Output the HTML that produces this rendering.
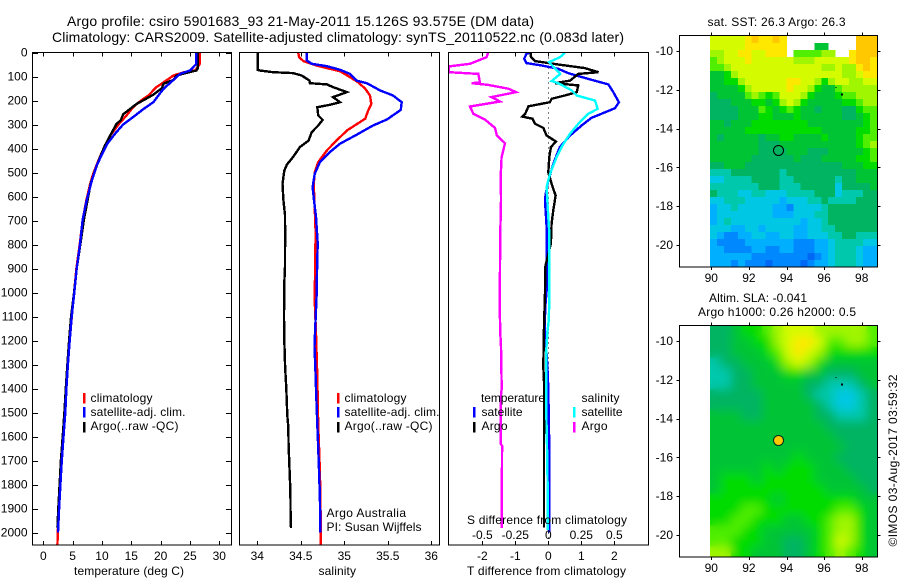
<!DOCTYPE html>
<html lang="en">
<head>
<meta charset="utf-8">
<title>Argo profile csiro 5901683_93</title>
<style>
html,body{margin:0;padding:0;background:#fff;width:900px;height:580px;overflow:hidden}
svg{display:block}
text{font-family:"Liberation Sans",sans-serif;font-size:12px;fill:#000}
.title{font-size:14px}
.line{fill:none;stroke-linejoin:miter;stroke-width:2.4;shape-rendering:crispEdges}
.frame{fill:none;stroke:#000;stroke-width:1;shape-rendering:crispEdges}
.tick{stroke:#000;stroke-width:1;shape-rendering:crispEdges}
.key{shape-rendering:crispEdges}
</style>
</head>
<body>
<svg id="chart" xmlns="http://www.w3.org/2000/svg" width="900" height="580" viewBox="0 0 900 580">
  <defs>
    <clipPath id="clip-temp"><rect x="33" y="53" width="198" height="492"/></clipPath>
    <clipPath id="clip-sal"><rect x="240" y="53" width="199" height="492"/></clipPath>
    <clipPath id="clip-diff"><rect x="449" y="53" width="199" height="492"/></clipPath>
    <clipPath id="clip-sla"><rect x="710" y="326" width="167" height="231"/></clipPath>
    <filter id="sla-smooth" x="-10%" y="-10%" width="120%" height="120%"><feGaussianBlur stdDeviation="5"/></filter>
  </defs>

  <g id="map-sst"></g>
  <g id="map-sla" clip-path="url(#clip-sla)"></g>

  <g id="series-temp" clip-path="url(#clip-temp)"></g>
  <g id="series-sal" clip-path="url(#clip-sal)"></g>
  <g id="series-diff" clip-path="url(#clip-diff)"></g>
  <g id="map-marks"></g>

  <rect class="frame" x="32.5" y="52.5" width="199" height="492.5"/>
  <rect class="frame" x="239.5" y="52.5" width="200" height="492.5"/>
  <rect class="frame" x="448.5" y="52.5" width="200" height="492.5"/>
  <rect class="frame" x="679.5" y="35.5" width="198" height="231.5"/>
  <rect class="frame" x="679.5" y="325.5" width="198" height="231.5"/>
  <g id="axes"></g>

  <text class="title" x="67" y="26" textLength="467" lengthAdjust="spacing">Argo profile: csiro 5901683_93 21-May-2011 15.126S 93.575E (DM data)</text>
  <text class="title" x="52" y="42" textLength="572" lengthAdjust="spacing">Climatology: CARS2009. Satellite-adjusted climatology: synTS_20110522.nc (0.083d later)</text>

  <text x="74" y="575" textLength="110" lengthAdjust="spacing">temperature (deg C)</text>
  <text x="318.5" y="575" textLength="37.5" lengthAdjust="spacing">salinity</text>
  <text x="467" y="575" textLength="159" lengthAdjust="spacing">T difference from climatology</text>
  <text x="467" y="524" textLength="160" lengthAdjust="spacing">S difference from climatology</text>

  <g>
    <rect class="key" x="83" y="393" width="2.4" height="10.5" fill="#ff0000"/>
    <rect class="key" x="83" y="407" width="2.4" height="10.5" fill="#0000ff"/>
    <rect class="key" x="83" y="422" width="2.4" height="10.5" fill="#000000"/>
    <text x="90.5" y="402" textLength="62" lengthAdjust="spacing">climatology</text>
    <text x="90.5" y="416" textLength="95" lengthAdjust="spacing">satellite-adj. clim.</text>
    <text x="90.5" y="430" textLength="88" lengthAdjust="spacing">Argo(..raw -QC)</text>
  </g>
  <g>
    <rect class="key" x="337" y="393" width="2.4" height="10.5" fill="#ff0000"/>
    <rect class="key" x="337" y="407" width="2.4" height="10.5" fill="#0000ff"/>
    <rect class="key" x="337" y="422" width="2.4" height="10.5" fill="#000000"/>
    <text x="344.5" y="402" textLength="62" lengthAdjust="spacing">climatology</text>
    <text x="344.5" y="416" textLength="95" lengthAdjust="spacing">satellite-adj. clim.</text>
    <text x="344.5" y="430" textLength="88" lengthAdjust="spacing">Argo(..raw -QC)</text>
    <text x="326.5" y="517" textLength="79.5" lengthAdjust="spacing">Argo Australia</text>
    <text x="326.5" y="531" textLength="95" lengthAdjust="spacing">PI: Susan Wijffels</text>
  </g>
  <g>
    <text x="481" y="402" textLength="64" lengthAdjust="spacing">temperature</text>
    <text x="581.5" y="402" textLength="38" lengthAdjust="spacing">salinity</text>
    <rect class="key" x="473" y="407" width="2.4" height="10.5" fill="#0000ff"/>
    <rect class="key" x="473" y="422" width="2.4" height="10.5" fill="#000000"/>
    <rect class="key" x="573" y="407" width="2.4" height="10.5" fill="#00ffff"/>
    <rect class="key" x="573" y="422" width="2.4" height="10.5" fill="#ff00ff"/>
    <text x="481.5" y="416" textLength="41" lengthAdjust="spacing">satellite</text>
    <text x="481.5" y="430" textLength="26" lengthAdjust="spacing">Argo</text>
    <text x="581.5" y="416" textLength="41" lengthAdjust="spacing">satellite</text>
    <text x="581.5" y="430" textLength="26" lengthAdjust="spacing">Argo</text>
  </g>

  <text x="707.5" y="26" textLength="138" lengthAdjust="spacing">sat. SST: 26.3 Argo: 26.3</text>
  <text x="709" y="302" textLength="98" lengthAdjust="spacing">Altim. SLA: -0.041</text>
  <text x="698" y="316" textLength="158" lengthAdjust="spacing">Argo h1000: 0.26 h2000: 0.5</text>
  <text transform="translate(897 546.5) rotate(-90)" textLength="172" lengthAdjust="spacing">©IMOS 03-Aug-2017 03:59:32</text>
</svg>

<script>
// ---- axis tick data ----
const depthTicks = [0,100,200,300,400,500,600,700,800,900,1000,1100,1200,1300,1400,1500,1600,1700,1800,1900,2000];
const tempTicks = [0,5,10,15,20,25,30];
const salTicks = [34,34.5,35,35.5,36];
const tDiffTicks = [-2,-1,0,1,2];
const sDiffTicks = [-0.5,-0.25,0,0.25,0.5];
const lonTicks = [90,92,94,96,98];
const latTicks = [-10,-12,-14,-16,-18,-20];

// ---- temperature profiles ----
const tempClimDepth = [0,47,75,83,96,124,144,179,203,228,262,294,339,388,450,505,547,615,698,800,900,1000,1100,1200,1300,1400,1500,1600,1700,1800,1900,2000,2054];
const tempClimValue = [26.7,26.7,25.9,23.9,22.2,20.5,19.3,17.9,16.5,15.3,14.2,13,11.6,10.5,9.4,8.5,8,7.35,6.72,6.2,5.65,5.25,4.85,4.5,4.2,3.92,3.7,3.4,3.12,2.88,2.65,2.47,2.4];
const tempSatDepth = [0,47,75,89,114,151,207,237,269,300,339,380,429,471,540,615,698,800,900,1000,1100,1200,1300,1400,1500,1600,1700,1800,1900,2000];
const tempSatValue = [26.1,26.1,25,23.3,22.2,20.5,18.75,17,15.3,13.6,12.2,10.9,9.9,9.1,8.2,7.4,6.7,6.26,5.7,5.29,4.84,4.5,4.2,3.93,3.75,3.45,3.15,2.92,2.7,2.5];
const tempArgoDepth = [0,68,75,85,96,114,130,149,176,200,214,235,258,283,297,346,388,436,492,547,615,698,800,900,1000,1100,1200,1300,1400,1500,1600,1700,1800,1900,1980];
const tempArgoValue = [26.3,26.3,26.1,24.4,22.7,22.2,20.5,20.2,18.75,17,15.9,14.8,13.6,13.2,12.5,11.4,10.5,9.66,8.8,8.07,7.55,6.9,6.3,5.7,5.25,4.74,4.4,4.1,3.83,3.6,3.3,3,2.78,2.55,2.4];

// ---- salinity profiles ----
const salClimDepth = [0,19,36,54,68,78,99,124,151,179,214,242,276,304,325,367,408,457,499,547,617,693,753,1030,1170,1350,1550,1650,1750,1850,2000,2054];
const salClimValue = [34.47,34.48,34.53,34.68,34.835,34.95,35.05,35.16,35.24,35.295,35.31,35.275,35.24,35.12,35.03,34.91,34.8,34.7,34.66,34.65,34.655,34.665,34.67,34.66,34.675,34.69,34.7,34.71,34.72,34.725,34.73,34.73];
const salSatDepth = [0,33,47,57,72,89,117,128,158,179,207,239,279,304,343,380,415,457,506,561,615,684,795,892,1003,1170,1225,1308,1400,1550,1645,1750,1854,2000];
const salSatValue = [34.567,34.567,34.625,34.8,34.95,35.065,35.14,35.26,35.41,35.56,35.66,35.65,35.49,35.33,35.14,34.95,34.835,34.72,34.66,34.636,34.652,34.675,34.694,34.687,34.683,34.663,34.657,34.667,34.675,34.69,34.7,34.71,34.72,34.725];
const salArgoDepth = [0,72,75,82,86,96,117,128,133,144,165,186,207,218,228,262,281,304,332,367,394,436,467,492,547,615,677,753,892,962,1100,1197,1308,1400,1512,1560,1637,1733,1830,1933,1982];
const salArgoValue = [34.004,34.004,34.03,34.18,34.41,34.51,34.6,34.605,34.8,34.87,35.03,34.87,34.95,34.835,34.69,34.7,34.75,34.7,34.625,34.59,34.49,34.41,34.34,34.31,34.29,34.3,34.318,34.32,34.318,34.31,34.307,34.31,34.32,34.333,34.345,34.356,34.36,34.37,34.38,34.383,34.387];

// ---- difference from climatology profiles ----
const tDiffSatDepth = [0,6,26,44,54,68,86,110,133,165,207,232,249,272,304,346,394,464,533,589,615,726,892,975,1058,1100,1160,1300,1400,1650,1850,2000];
const tDiffSatValue = [-0.55,-0.66,-0.73,-0.66,-0.2,0.3,0.6,1.21,1.82,1.97,2.14,2.02,1.72,1.31,1.01,0.66,0.35,0.15,0,-0.08,-0.1,-0.05,-0.04,-0.04,-0.09,-0.1,-0.1,-0.03,0,0.03,0.03,0.03];
const tDiffArgoDepth = [0,17,36,50,65,82,89,117,128,137,165,179,193,207,224,255,267,276,297,314,346,371,394,436,499,547,596,615,657,712,795,892,1000,1142,1308,1400,1637,1733,1850,1980];
const tDiffArgoValue = [-0.53,-0.53,-0.4,0.3,1.11,1.52,0.91,0.66,0.2,0.91,0.86,0.5,0.1,0.05,-0.6,-0.7,-0.79,-0.48,-0.4,-0.15,-0.05,0.23,0.08,0.03,0,0.1,0.22,0.2,0.15,0.1,0.08,-0.09,-0.1,-0.13,-0.15,-0.12,-0.13,-0.13,-0.13,-0.13];
const sDiffSatDepth = [0,19,40,89,119,128,158,179,200,235,255,297,339,394,436,506,561,615,753,1031,1114,1170,1240,1400,1500,1640,1800,1990];
const sDiffSatValue = [0.126,0.09,0.005,0.09,0.025,0.076,0.177,0.215,0.354,0.374,0.303,0.227,0.164,0.1,0.063,0.013,-0.013,-0.0076,0.0076,0.0076,0.004,-0.0076,-0.015,-0.015,-0.015,-0.01,-0.005,-0.005];
const sDiffArgoDepth = [0,19,47,58,82,89,124,128,135,151,165,186,204,225,255,279,314,346,378,436,506,615,753,892,1058,1170,1225,1400,1436,1630,1640,1830,1982];
const sDiffArgoValue = [-0.455,-0.467,-0.593,-0.752,-0.752,-0.53,-0.518,-0.58,-0.455,-0.303,-0.245,-0.43,-0.366,-0.593,-0.568,-0.48,-0.404,-0.39,-0.328,-0.354,-0.36,-0.358,-0.364,-0.366,-0.368,-0.364,-0.358,-0.353,-0.36,-0.36,-0.35,-0.352,-0.352];
const refLineDepth = [0,2054];
const refLineValue = [0,0];

// ---- map data (colour-class per cell; null = no data) ----
const sstRows = [
[10,10,10,10,10,11,12,11,11,12,11,null,null,null,null,null,null,null,null,null,null,12,12,12],
[10,10,10,10,10,11,11,11,11,11,11,null,null,null,null,6,6,null,null,null,null,12,12,12],
[9,9,10,10,11,11,10,10,11,11,11,null,8,8,8,8,9,9,null,null,11,12,12,12],
[8,9,10,10,10,11,10,10,10,10,10,10,9,9,9,10,10,10,10,10,11,12,12,11],
[8,8,9,10,10,10,10,10,10,10,10,10,10,10,10,10,9,9,10,9,9,11,12,11],
[6,6,7,9,10,10,10,10,10,10,10,10,10,10,10,10,10,10,10,9,9,10,11,11],
[6,6,7,7,9,10,10,10,10,10,10,11,11,10,10,9,7,9,10,10,9,9,10,10],
[6,6,6,6,7,9,10,10,10,10,10,11,10,10,9,7,6,6,8,9,9,9,9,9],
[5,6,6,6,6,8,9,8,7,8,10,10,10,9,7,6,6,6,7,8,8,9,9,9],
[5,5,5,6,6,6,7,7,6,7,9,10,9,7,6,6,6,6,6,7,7,8,9,9],
[5,5,5,5,6,6,6,8,7,6,7,8,7,6,6,5,6,6,6,5,5,7,8,8],
[5,5,5,5,6,6,6,7,7,6,6,6,7,6,6,6,6,6,6,5,5,6,7,8],
[6,6,5,6,6,6,7,7,7,7,7,7,7,7,6,6,6,6,6,6,6,6,7,8],
[6,6,6,6,6,7,7,7,7,7,7,7,7,7,7,7,6,6,6,6,6,7,7,8],
[6,5,6,6,6,6,6,5,6,6,7,7,6,6,6,6,7,6,6,6,6,7,8,8],
[6,6,6,6,6,6,6,5,5,5,6,6,6,6,6,6,6,6,6,6,6,7,8,9],
[6,6,6,6,6,6,6,5,5,5,5,6,6,6,5,5,5,6,6,6,6,6,7,8],
[6,6,6,6,6,6,5,5,5,5,5,5,6,5,5,5,6,6,6,6,6,7,7,8],
[5,5,6,6,6,5,5,5,5,5,5,5,5,5,5,5,5,5,5,6,6,6,7,7],
[4,4,4,5,5,5,5,5,5,5,4,5,5,5,5,5,5,5,5,5,5,6,6,6],
[3,3,4,4,4,4,5,5,5,5,4,4,5,5,5,5,5,5,4,5,5,6,6,6],
[4,4,4,4,4,4,4,5,5,5,4,4,4,5,5,5,5,5,3,5,5,5,5,6],
[5,4,4,4,3,3,4,4,3,3,3,4,4,4,4,5,5,5,3,4,4,4,5,5],
[3,3,4,4,4,3,3,3,3,3,2,3,3,3,4,4,5,4,4,4,4,5,5,5],
[2,3,3,4,3,3,3,3,3,2,2,1,3,3,3,3,4,5,5,5,5,5,5,5],
[2,3,3,3,3,3,3,3,3,2,2,2,3,3,3,4,4,5,5,5,5,5,5,5],
[2,3,4,3,3,3,3,3,3,3,3,3,3,2,3,3,4,5,5,5,5,5,5,5],
[3,3,3,2,2,3,3,2,3,3,3,3,2,2,3,3,4,4,5,5,5,5,5,5],
[3,2,1,1,2,2,3,3,2,2,3,3,2,2,3,3,3,4,4,5,5,4,4,4],
[2,1,1,1,1,2,2,2,2,2,2,2,1,1,1,2,2,3,4,4,4,4,3,3],
[2,2,1,1,1,1,2,2,1,1,2,2,1,1,1,2,2,3,4,4,4,3,2,2],
[2,2,2,2,2,2,1,1,1,1,1,1,1,1,0,1,2,3,4,4,4,3,2,2],
[2,2,2,1,2,1,1,1,0,1,1,1,1,0,1,2,2,3,4,4,4,3,2,2]
];
const slaRows = [
[5,5,6,7,7,8,9,10,10,10,9,9,9,9,9,8],
[5,5,6,6,7,7,9,10,11,11,10,8,8,9,9,8],
[5,5,6,6,6,7,8,10,11,10,9,7,7,7,7,7],
[4,5,5,6,6,6,7,9,10,9,7,6,6,6,6,6],
[4,4,5,5,6,6,6,7,7,6,6,5,5,5,6,6],
[4,4,5,5,6,6,6,6,6,5,5,4,4,4,5,6],
[5,5,5,5,5,6,6,6,6,5,4,4,3,3,4,5],
[5,5,5,5,5,6,6,6,6,6,5,4,3,3,4,5],
[6,6,6,5,5,6,6,6,6,6,5,5,4,4,4,5],
[6,6,6,6,6,6,6,6,6,6,6,5,5,5,5,5],
[6,6,6,6,6,6,6,6,6,6,6,6,5,5,5,5],
[6,6,6,6,6,6,6,6,6,6,6,6,6,5,5,5],
[6,6,6,6,6,6,6,6,7,6,6,6,5,5,5,5],
[6,6,6,6,6,7,6,7,7,7,6,6,6,5,5,5],
[6,7,7,7,6,7,7,7,7,7,6,6,6,6,5,5],
[6,7,7,7,7,7,7,7,7,7,7,6,6,6,6,5],
[7,7,7,7,7,7,6,7,7,7,7,7,7,7,6,6],
[7,7,7,8,8,7,7,7,7,7,7,7,8,8,7,6],
[7,7,8,8,7,7,7,6,6,7,7,8,9,9,7,6],
[8,8,8,7,7,6,6,6,6,6,7,8,9,9,7,6],
[8,8,7,7,7,6,6,5,5,6,7,8,10,9,7,6],
[9,9,7,7,6,6,6,5,5,6,7,8,9,8,7,6]
];
const reefLon = [96.6,96.9];
const reefLat = [-11.85,-12.18];
const argoLon = [93.575];
const argoLat = [-15.126];

// ---- scales ----
const colourClasses = ['#0068f5','#0088ff','#00b0ff','#00c8e4','#00c8ac','#00b462','#00c434','#00dc00','#50ee00','#a0f500','#d4fb00','#ffe800','#ffc800'];
const SVGNS = 'http://www.w3.org/2000/svg';
const yDepth = d => 52.5 + d * 0.24;
const xTemp = t => 43.3 + t * 5.867;
const xSal = s => 257.3 + (s - 34) * 87;
const xTDiff = t => 548.3 + t * 33;
const xSDiff = s => 548.3 + s * 132;
const xLon = lon => 711.3 + (lon - 90) * 18.8;
const ySstLat = lat => 51 + (-10 - lat) * 19.4;
const ySlaLat = lat => 341 + (-10 - lat) * 19.4;
const LON_W = 89.93, LON_E = 98.81, LAT_N = -9.227, LAT_S = -21.134;

function el(tag, parent, attrs) {
  const e = document.createElementNS(SVGNS, tag);
  for (const k in attrs) e.setAttribute(k, attrs[k]);
  parent.appendChild(e);
  return e;
}

// ---- profile lines ----
function profile(parent, name, depth, value, xf, colour) {
  const pts = depth.map((d, i) => xf(value[i]).toFixed(1) + ',' + yDepth(d).toFixed(1)).join(' ');
  const p = el('polyline', parent, {points: pts, stroke: colour, class: 'line'});
  
  
  return p;
}
const gTemp = document.getElementById('series-temp');
profile(gTemp, 'temperature-climatology-line', tempClimDepth, tempClimValue, xTemp, '#ff0000');
profile(gTemp, 'temperature-argo-line', tempArgoDepth, tempArgoValue, xTemp, '#000000');
profile(gTemp, 'temperature-satellite-line', tempSatDepth, tempSatValue, xTemp, '#0000ff');

const gSal = document.getElementById('series-sal');
profile(gSal, 'salinity-argo-line', salArgoDepth, salArgoValue, xSal, '#000000');
profile(gSal, 'salinity-climatology-line', salClimDepth, salClimValue, xSal, '#ff0000');
profile(gSal, 'salinity-satellite-line', salSatDepth, salSatValue, xSal, '#0000ff');

const gDiff = document.getElementById('series-diff');
const ref = profile(gDiff, 'zero-reference-line', refLineDepth, refLineValue, xTDiff, '#000000');
ref.setAttribute('style', 'stroke-width:1;stroke-dasharray:1 4');
profile(gDiff, 't-difference-satellite-line', tDiffSatDepth, tDiffSatValue, xTDiff, '#0000ff');
profile(gDiff, 't-difference-argo-line', tDiffArgoDepth, tDiffArgoValue, xTDiff, '#000000');
profile(gDiff, 's-difference-satellite-line', sDiffSatDepth, sDiffSatValue, xSDiff, '#00ffff');
profile(gDiff, 's-difference-argo-line', sDiffArgoDepth, sDiffArgoValue, xSDiff, '#ff00ff');

// ---- heatmaps ----
function heatmap(parent, name, rows, yf) {
  const nr = rows.length, nc = rows[0].length;
  const dLon = (LON_E - LON_W) / nc, dLat = (LAT_N - LAT_S) / nr;
  rows.forEach((row, r) => row.forEach((v, c) => {
    if (v === null) return;
    const x0 = xLon(LON_W + c * dLon), x1 = xLon(LON_W + (c + 1) * dLon);
    const y0 = yf(LAT_N - r * dLat), y1 = yf(LAT_N - (r + 1) * dLat);
    const cell = el('rect', parent, {x: x0.toFixed(2), y: y0.toFixed(2), width: (x1 - x0 + 0.4).toFixed(2), height: (y1 - y0 + 0.4).toFixed(2), fill: colourClasses[v], 'shape-rendering': 'crispEdges'});
    
    
  }));
}
heatmap(document.getElementById('map-sst'), 'sst-cell', sstRows, ySstLat);
const gSla = document.getElementById('map-sla');
const slaBase = el('g', gSla, {});


heatmap(slaBase, 'sla-cell', slaRows, ySlaLat);
const slaSmooth = el('g', gSla, {filter: 'url(#sla-smooth)'});


heatmap(slaSmooth, 'sla-cell-smoothed', slaRows, ySlaLat);

// ---- map markers ----
const gMarks = document.getElementById('map-marks');
[ySstLat, ySlaLat].forEach(yf => {
  reefLon.forEach((lon, i) => {
    const s = i === 0 ? 1 : 2;
    const m = el('rect', gMarks, {x: xLon(lon).toFixed(1), y: yf(reefLat[i]).toFixed(1), width: s, height: s, fill: '#000', 'shape-rendering': 'crispEdges'});
    
    
  });
});
const sstDot = el('circle', gMarks, {cx: xLon(argoLon[0]), cy: ySstLat(argoLat[0]), r: 5, fill: 'none', stroke: '#000', 'stroke-width': 1});


const slaDot = el('circle', gMarks, {cx: xLon(argoLon[0]), cy: ySlaLat(argoLat[0]), r: 5, fill: '#ffc800', stroke: '#00301a', 'stroke-width': 1});



// ---- axes ----
const gAxes = document.getElementById('axes');
function tick(x1, y1, x2, y2) {
  const t = el('line', gAxes, {x1, y1, x2, y2, class: 'tick'});
  
  
}
function label(txt, x, y, anchor) {
  const t = el('text', gAxes, {x, y, 'text-anchor': anchor});
  t.textContent = txt;
  
  
}
const PANEL_TOP = 52.5, PANEL_BOTTOM = 545;
function xAxis(ticks, xf) {
  ticks.forEach(v => {
    const x = Math.round(xf(v)) + 0.5;
    tick(x, PANEL_TOP, x, PANEL_TOP + 4);
    tick(x, PANEL_BOTTOM, x, PANEL_BOTTOM - 4);
  });
}
xAxis(tempTicks, xTemp);
xAxis(salTicks, xSal);
xAxis(tDiffTicks, xTDiff);
tempTicks.forEach(v => label(String(v), xTemp(v), 560, 'middle'));
salTicks.forEach(v => label(String(v), xSal(v), 560, 'middle'));
tDiffTicks.forEach(v => label(String(v), xTDiff(v), 560, 'middle'));
sDiffTicks.forEach(v => label(String(v), xSDiff(v), 539, 'middle'));
depthTicks.forEach(d => {
  const y = Math.round(yDepth(d)) + 0.5;
  tick(32.5, y, 38, y);
  tick(231.5, y, 226, y);
  label(String(d), 27.5, yDepth(d) + 4, 'end');
});
function mapAxes(yf, top, bottom) {
  lonTicks.forEach(lon => {
    const x = Math.round(xLon(lon)) + 0.5;
    tick(x, top, x, top - 3);
    tick(x, bottom, x, bottom + 3);
    label(String(lon), xLon(lon), bottom + 15, 'middle');
  });
  latTicks.forEach(lat => {
    const y = Math.round(yf(lat)) + 0.5;
    tick(679.5, y, 676.5, y);
    tick(877.5, y, 880.5, y);
    label(String(lat), 673, yf(lat) + 4, 'end');
  });
}
mapAxes(ySstLat, 35.5, 267);
mapAxes(ySlaLat, 325.5, 557);
</script>
</body>
</html>
